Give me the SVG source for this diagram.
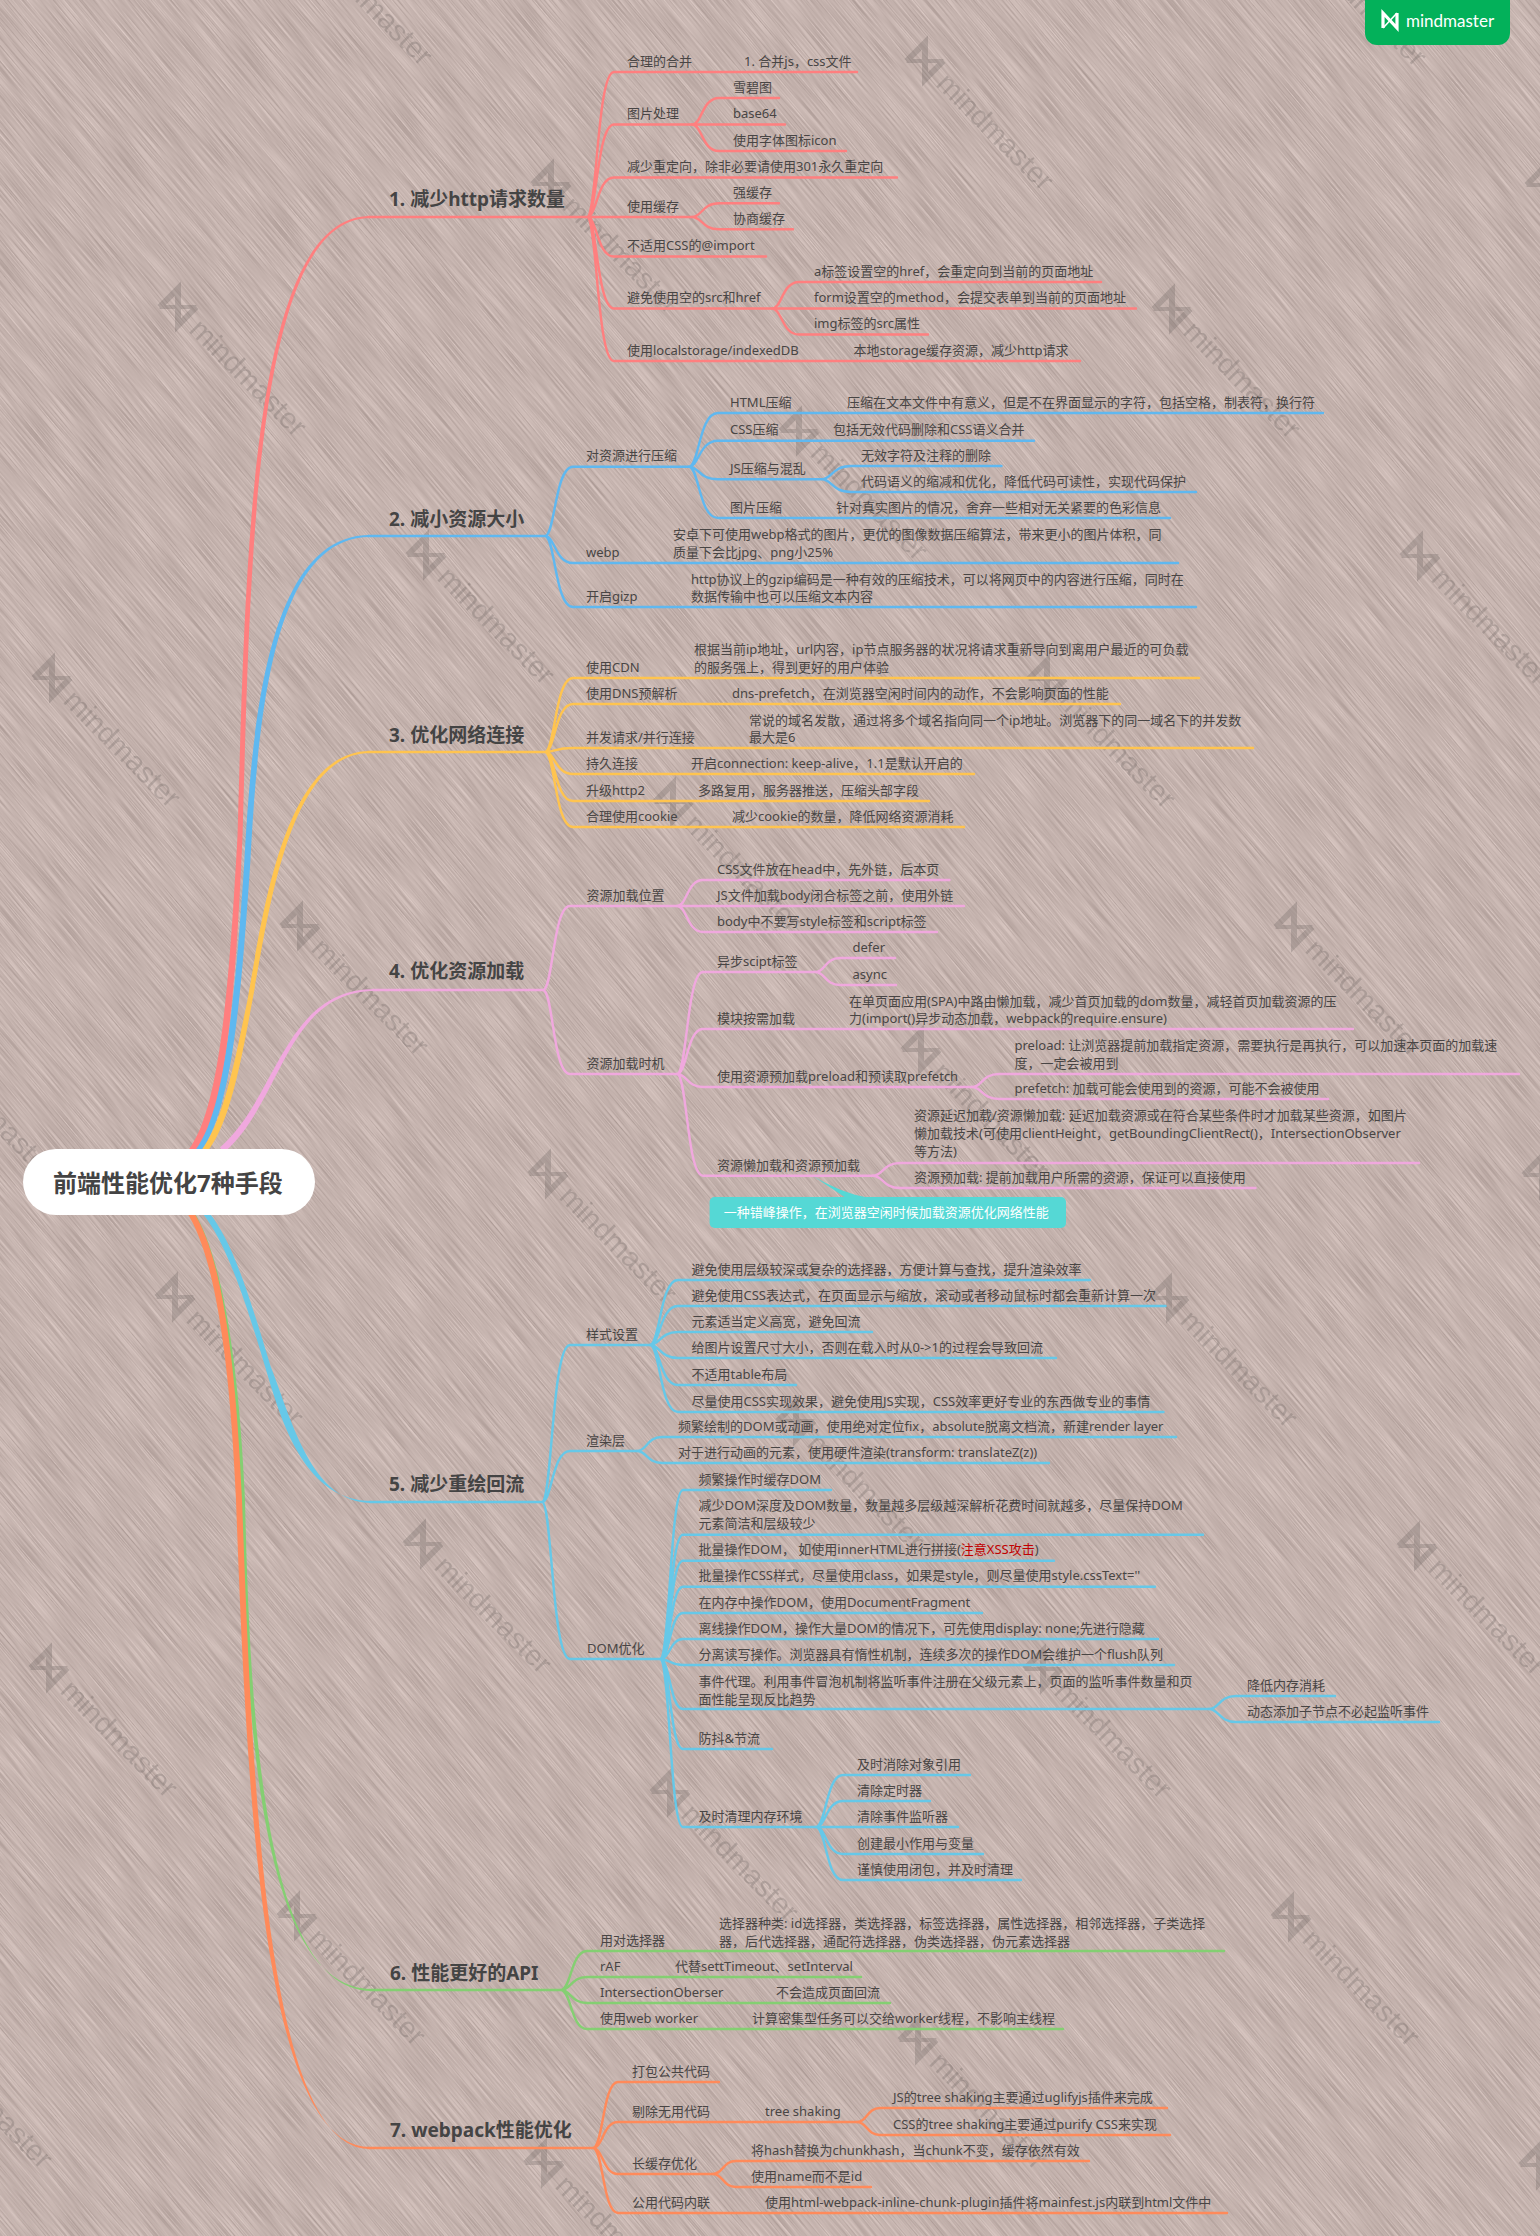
<svg xmlns="http://www.w3.org/2000/svg" width="1540" height="2236" viewBox="0 0 1540 2236">
<style>
text{font-family:"Noto Sans","Noto Sans CJK SC",sans-serif;font-size:13px;fill:#484544}
.h{font-size:19px;font-weight:700;fill:#444}
.root{font-size:24px;font-weight:700;fill:#444}
.l{fill:none;stroke-width:2.4;stroke-linecap:round}
.c1{stroke:#ff7f7f}.c2{stroke:#5fb8f0}.c3{stroke:#ffc44f}.c4{stroke:#f0a8de}.c5{stroke:#66c8e8}.c6{stroke:#84cf72}.c7{stroke:#ff8a5a}
.f1{fill:#ff7f7f}.f2{fill:#5fb8f0}.f3{fill:#ffc44f}.f4{fill:#f0a8de}.f5{fill:#66c8e8}.f6{fill:#84cf72}.f7{fill:#ff8a5a}
.wmt{font-family:"Liberation Sans",sans-serif;font-size:29px;fill:#6f6663;stroke:none}
.brand{font-family:"Lato",sans-serif;font-size:17px;fill:#fff}
</style>
<defs>
<filter id="rain" x="0" y="0" width="100%" height="100%" color-interpolation-filters="sRGB">
<feTurbulence type="fractalNoise" baseFrequency="0.02 1.6" numOctaves="1" seed="4"/>
<feColorMatrix type="matrix" values="0.3 0 0 0 0.62  0.3 0 0 0 0.55  0.3 0 0 0 0.53  0 0 0 0 1"/>
</filter>
<g id="wm" opacity="0.3">
<path d="M-13 13V-13L13 13V-13M-13 -13" fill="none" stroke="#6f6663" stroke-width="6"/>
<path d="M-13 13L13 -13" fill="none" stroke="#6f6663" stroke-width="4"/>
<text class="wmt" x="24" y="10">mindmaster</text>
</g>
</defs>
<rect width="1540" height="2236" fill="#c4b3ae"/>
<rect x="-590" y="-242" width="2720" height="2720" transform="rotate(50 770 1118)" filter="url(#rain)"/>
<g id="watermarks">
<use href="#wm" transform="translate(304 -64) rotate(45)"/><use href="#wm" transform="translate(551 184) rotate(45)"/><use href="#wm" transform="translate(799 431) rotate(45)"/><use href="#wm" transform="translate(1047 679) rotate(45)"/><use href="#wm" transform="translate(1294 927) rotate(45)"/><use href="#wm" transform="translate(1542 1175) rotate(45)"/>
<use href="#wm" transform="translate(178 307) rotate(45)"/><use href="#wm" transform="translate(426 555) rotate(45)"/><use href="#wm" transform="translate(673 802) rotate(45)"/><use href="#wm" transform="translate(921 1050) rotate(45)"/><use href="#wm" transform="translate(1169 1298) rotate(45)"/><use href="#wm" transform="translate(1417 1546) rotate(45)"/>
<use href="#wm" transform="translate(925 61) rotate(45)"/><use href="#wm" transform="translate(1172 309) rotate(45)"/><use href="#wm" transform="translate(1420 556) rotate(45)"/>
<use href="#wm" transform="translate(1298 -63) rotate(45)"/><use href="#wm" transform="translate(1545 185) rotate(45)"/>
<use href="#wm" transform="translate(52 678) rotate(45)"/><use href="#wm" transform="translate(300 926) rotate(45)"/><use href="#wm" transform="translate(548 1174) rotate(45)"/><use href="#wm" transform="translate(796 1421) rotate(45)"/><use href="#wm" transform="translate(1043 1669) rotate(45)"/><use href="#wm" transform="translate(1291 1917) rotate(45)"/><use href="#wm" transform="translate(1539 2165) rotate(45)"/>
<use href="#wm" transform="translate(-73 1049) rotate(45)"/><use href="#wm" transform="translate(175 1297) rotate(45)"/><use href="#wm" transform="translate(423 1544) rotate(45)"/><use href="#wm" transform="translate(670 1792) rotate(45)"/><use href="#wm" transform="translate(918 2040) rotate(45)"/>
<use href="#wm" transform="translate(49 1668) rotate(45)"/><use href="#wm" transform="translate(297 1916) rotate(45)"/><use href="#wm" transform="translate(544 2163) rotate(45)"/>
<use href="#wm" transform="translate(-76 2039) rotate(45)"/>
</g>
<g id="connectors">
<path class="f3" d="M201.5 1150C224.5 1120 237 1050 247.5 1000C262 920 283 751 370 751V753C287 753 268 920 252.5 1000C243 1050 231.5 1120 208.5 1150Z"/>
<path class="f2" d="M194.5 1150C224.5 1110 235 1000 244 867C252 720 268 535 370 535V537C272 537 258 720 250 867C241 1000 231.5 1110 201.5 1150Z"/>
<path class="f1" d="M188.5 1150C218.5 1110 228.5 1000 237.5 836C245.5 560 250 216 370 216V218C254 218 250.5 560 242.5 836C235.5 1000 225.5 1110 195.5 1150Z"/>
<path class="f4" d="M220 1147.5C278 1097 284 989 375 989V991C286 991 282 1103 224 1152.5Z"/>
<path class="f5" d="M201.5 1212C224.5 1240 243 1292 265.5 1368C282.5 1426 306 1501 372 1501V1503C312 1503 293 1424 270.5 1366C247 1288 231.5 1240 208.5 1212Z"/>
<path class="f6" d="M190 1212C214 1250 234 1340 241 1500C246 1720 260 1989 372 1989V1991C264 1991 250 1720 245 1500C238 1340 218 1250 194 1212Z"/>
<path class="f7" d="M186.5 1212C211.5 1250 229 1340 236 1500C247 1800 263 2147 370 2147V2149C267 2149 253 1800 242 1500C235 1340 218.5 1250 193.5 1212Z"/>
<g class="l c1">
<path d="M368 217H587M587 217C597 217 597 72 614 72H857M587 217C597 217 597 124.5 614 124.5H692M587 217C597 217 597 177.5 614 177.5H897M587 217H692M587 217C597 217 597 256.5 614 256.5H766M587 217C597 217 597 308.5 614 308.5H772M587 217C597 217 597 361 614 361H1080"/>
<path d="M692 124.5C702 124.5 702 98 719 98H779M692 124.5H785M692 124.5C702 124.5 702 151 719 151H846M692 217C702 217 702 203.3 719 203.3H779M692 217C702 217 702 229.3 719 229.3H793"/>
<path d="M772 308.5C782 308.5 782 282 799 282H1101M772 308.5H1136M772 308.5C782 308.5 782 334.5 799 334.5H928"/>
</g>
<g class="l c2">
<path d="M368 536H545M545 536C555 536 555 466.7 573 466.7H689M545 536C555 536 555 563 573 563H1178M545 536C555 536 555 607 573 607H1196"/>
<path d="M689 466.7C699 466.7 699 413 718 413H1323M689 466.7C699 466.7 699 440.7 718 440.7H1034M689 466.7C699 466.7 699 479.3 718 479.3H822M689 466.7C699 466.7 699 518 718 518H1170M822 479.3C832 479.3 832 466 851 466H1001.5M822 479.3C832 479.3 832 492 851 492H1196"/>
</g>
<g class="l c3">
<path d="M368 752H545M545 752C555 752 555 678 573 678H1199M545 752C555 752 555 704 573 704H1120M545 752C555 752 555 748 573 748H1253M545 752C555 752 555 774 573 774H974M545 752C555 752 555 801 573 801H929M545 752C555 752 555 827 573 827H964"/>
</g>
<g class="l c4">
<path d="M373 990H543M543 990C553 990 553 906 570 906H677M543 990C553 990 553 1074 570 1074H677"/>
<path d="M677 906C687 906 687 880 703 880H949.5M677 906H964M677 906C687 906 687 932 703 932H937"/>
<path d="M677 1074C687 1074 687 972 703 972H815.5M677 1074C687 1074 687 1029 703 1029H1353M677 1074C687 1074 687 1087 703 1087H972M677 1074C687 1074 687 1175.7 703 1175.7H873"/>
<path d="M815.5 972C825 972 825 958 840 958H895M815.5 972C825 972 825 985 840 985H896M972 1087C982 1087 982 1074 999 1074H1519M972 1087C982 1087 982 1099 999 1099H1328M873 1175.7C883 1175.7 883 1163 900 1163H1419M873 1175.7C883 1175.7 883 1188 900 1188H1255.5"/>
</g>
<g class="l c5">
<path d="M370 1502H542M542 1502C552 1502 552 1345 570 1345H650M542 1502C552 1502 552 1451 570 1451H637M542 1502C552 1502 552 1659 570 1659H660"/>
<path d="M650 1345C660 1345 660 1280 678 1280H1090M650 1345C660 1345 660 1306 678 1306H1165.5M650 1345C660 1345 660 1332 678 1332H872M650 1345C660 1345 660 1358 678 1358H1056M650 1345C660 1345 660 1385 678 1385H796M650 1345C660 1345 660 1412 678 1412H1163.5"/>
<path d="M637 1451C647 1451 647 1437 662 1437H1176M637 1451C647 1451 647 1463 662 1463H1049"/>
<path d="M660 1659C670 1659 670 1490 683 1490H831M660 1659C670 1659 670 1534.7 683 1534.7H1203M660 1659C670 1659 670 1560.7 683 1560.7H1054M660 1659C670 1659 670 1586.7 683 1586.7H1155M660 1659C670 1659 670 1613 683 1613H982M660 1659C670 1659 670 1639 683 1639H1158M660 1659C670 1659 670 1665 683 1665H1174M660 1659C670 1659 670 1709 683 1709H1209M660 1659C670 1659 670 1749 683 1749H772M660 1659C670 1659 670 1827 683 1827H816"/>
<path d="M1209 1709C1219 1709 1219 1696 1236 1696H1335M1209 1709C1219 1709 1219 1722 1236 1722H1439M816 1827C826 1827 826 1775 843 1775H970M816 1827C826 1827 826 1801 843 1801H930M816 1827H958M816 1827C826 1827 826 1854 843 1854H983M816 1827C826 1827 826 1880 843 1880H1021"/>
</g>
<g class="l c6">
<path d="M370 1990H561M561 1990C571 1990 571 1951 587 1951H1224M561 1990C571 1990 571 1977 587 1977H861M561 1990C571 1990 571 2003 587 2003H890M561 1990C571 1990 571 2029 587 2029H1063"/>
</g>
<g class="l c7">
<path d="M368 2148H593M593 2148C603 2148 603 2082 618 2082H719M593 2148C603 2148 603 2122 618 2122H857M593 2148C603 2148 603 2174 618 2174H713M593 2148C603 2148 603 2213 618 2213H1227"/>
<path d="M857 2122C867 2122 867 2108 880 2108H1167M857 2122C867 2122 867 2135 880 2135H1170M713 2174C723 2174 723 2161 736 2161H1089M713 2174C723 2174 723 2187 736 2187H871"/>
</g>
</g>
<g id="root"><rect x="23" y="1149" width="292" height="66" rx="33" fill="#fff"/><text class="root" x="53" y="1191.5">前端性能优化7种手段</text></g>
<g id="brand"><path d="M1365 0H1510V33A12 12 0 0 1 1498 45H1377A12 12 0 0 1 1365 33Z" fill="#03b15a"/><path d="M1383 28V13L1397 28V13" fill="none" stroke="#fff" stroke-width="3.2"/><path d="M1383 28L1397 13" fill="none" stroke="#fff" stroke-width="1.6"/><text class="brand" x="1406" y="26.5">mindmaster</text></g>
<g id="b1"><text class="h" x="389" y="206">1. 减少http请求数量</text></g>
<g id="b1-1"><text x="627" y="66">合理的合并</text><text x="744" y="66">1. 合并js，css文件</text></g>
<g id="b1-2"><text x="627" y="118">图片处理</text></g>
<g id="b1-2-1"><text x="733" y="91.5">雪碧图</text></g>
<g id="b1-2-2"><text x="733" y="118">base64</text></g>
<g id="b1-2-3"><text x="733" y="144.5">使用字体图标icon</text></g>
<g id="b1-3"><text x="627" y="171">减少重定向，除非必要请使用301永久重定向</text></g>
<g id="b1-4"><text x="627" y="210.5">使用缓存</text></g>
<g id="b1-4-1"><text x="733" y="197">强缓存</text></g>
<g id="b1-4-2"><text x="733" y="223">协商缓存</text></g>
<g id="b1-5"><text x="627" y="250">不适用CSS的@import</text></g>
<g id="b1-6"><text x="627" y="302">避免使用空的src和href</text></g>
<g id="b1-6-1"><text x="814" y="275.5">a标签设置空的href，会重定向到当前的页面地址</text></g>
<g id="b1-6-2"><text x="814" y="302">form设置空的method，会提交表单到当前的页面地址</text></g>
<g id="b1-6-3"><text x="814" y="328">img标签的src属性</text></g>
<g id="b1-7"><text x="627" y="354.5">使用localstorage/indexedDB</text><text x="853.5" y="354.5">本地storage缓存资源，减少http请求</text></g>
<g id="b2"><text class="h" x="389" y="526">2. 减小资源大小</text></g>
<g id="b2-1"><text x="586" y="460">对资源进行压缩</text></g>
<g id="b2-1-1"><text x="730" y="406.5">HTML压缩</text><text x="847" y="406.5">压缩在文本文件中有意义，但是不在界面显示的字符，包括空格，制表符，换行符</text></g>
<g id="b2-1-2"><text x="730" y="434">CSS压缩</text><text x="833" y="434">包括无效代码删除和CSS语义合并</text></g>
<g id="b2-1-3"><text x="730" y="473">JS压缩与混乱</text></g>
<g id="b2-1-3-1"><text x="861" y="459.5">无效字符及注释的删除</text></g>
<g id="b2-1-3-2"><text x="861" y="485.5">代码语义的缩减和优化，降低代码可读性，实现代码保护</text></g>
<g id="b2-1-4"><text x="730" y="511.5">图片压缩</text><text x="836" y="511.5">针对真实图片的情况，舍弃一些相对无关紧要的色彩信息</text></g>
<g id="b2-2"><text x="586" y="556.5">webp</text><text x="673" y="538.5">安卓下可使用webp格式的图片，更优的图像数据压缩算法，带来更小的图片体积，同</text><text x="673" y="556.5">质量下会比jpg、png小25%</text></g>
<g id="b2-3"><text x="586" y="601">开启gizp</text><text x="691" y="583.5">http协议上的gzip编码是一种有效的压缩技术，可以将网页中的内容进行压缩，同时在</text><text x="691" y="601">数据传输中也可以压缩文本内容</text></g>
<g id="b3"><text class="h" x="389" y="742">3. 优化网络连接</text></g>
<g id="b3-1"><text x="586" y="671.5">使用CDN</text><text x="694" y="653.5">根据当前ip地址，url内容，ip节点服务器的状况将请求重新导向到离用户最近的可负载</text><text x="694" y="671.5">的服务强上，得到更好的用户体验</text></g>
<g id="b3-2"><text x="586" y="697.5">使用DNS预解析</text><text x="732" y="697.5">dns-prefetch，在浏览器空闲时间内的动作，不会影响页面的性能</text></g>
<g id="b3-3"><text x="586" y="742">并发请求/并行连接</text><text x="749" y="724.5">常说的域名发散，通过将多个域名指向同一个ip地址。浏览器下的同一域名下的并发数</text><text x="749" y="742">最大是6</text></g>
<g id="b3-4"><text x="586" y="767.5">持久连接</text><text x="691" y="767.5">开启connection: keep-alive，1.1是默认开启的</text></g>
<g id="b3-5"><text x="586" y="794.5">升级http2</text><text x="698" y="794.5">多路复用，服务器推送，压缩头部字段</text></g>
<g id="b3-6"><text x="586" y="820.5">合理使用cookie</text><text x="732" y="820.5">减少cookie的数量，降低网络资源消耗</text></g>
<g id="b4"><text class="h" x="389" y="978">4. 优化资源加载</text></g>
<g id="b4-1"><text x="586.5" y="899.5">资源加载位置</text></g>
<g id="b4-1-1"><text x="717" y="873.5">CSS文件放在head中，先外链，后本页</text></g>
<g id="b4-1-2"><text x="717" y="899.5">JS文件加载body闭合标签之前，使用外链</text></g>
<g id="b4-1-3"><text x="717" y="925.5">body中不要写style标签和script标签</text></g>
<g id="b4-2"><text x="586.5" y="1067.5">资源加载时机</text></g>
<g id="b4-2-1"><text x="717" y="965.5">异步scipt标签</text></g>
<g id="b4-2-1-1"><text x="852.5" y="951.5">defer</text></g>
<g id="b4-2-1-2"><text x="852.5" y="978.5">async</text></g>
<g id="b4-2-2"><text x="717" y="1022.5">模块按需加载</text><text x="849" y="1005.5">在单页面应用(SPA)中路由懒加载，减少首页加载的dom数量，减轻首页加载资源的压</text><text x="849" y="1023">力(import()异步动态加载，webpack的require.ensure)</text></g>
<g id="b4-2-3"><text x="717" y="1080.5">使用资源预加载preload和预读取prefetch</text></g>
<g id="b4-2-3-1"><text x="1014.5" y="1049.5">preload: 让浏览器提前加载指定资源，需要执行是再执行，可以加速本页面的加载速</text><text x="1014.5" y="1067.5">度，一定会被用到</text></g>
<g id="b4-2-3-2"><text x="1014.5" y="1093">prefetch: 加载可能会使用到的资源，可能不会被使用</text></g>
<g id="b4-2-4"><text x="717" y="1169.5">资源懒加载和资源预加载</text></g>
<g id="b4-2-4-1"><text x="914" y="1119.5">资源延迟加载/资源懒加载: 延迟加载资源或在符合某些条件时才加载某些资源，如图片</text><text x="914" y="1137.5">懒加载技术(可使用clientHeight，getBoundingClientRect()，IntersectionObserver</text><text x="914" y="1155.5">等方法)</text></g>
<g id="b4-2-4-2"><text x="914" y="1182">资源预加载: 提前加载用户所需的资源，保证可以直接使用</text></g>
<g id="callout"><path d="M813 1176L846 1198H870C850 1195 830 1186 813 1176Z" fill="#55d8d5"/><rect x="709.6" y="1197" width="356.4" height="31" rx="5" fill="#55d8d5"/><text x="723.7" y="1216.5" style="fill:#fff">一种错峰操作，在浏览器空闲时候加载资源优化网络性能</text></g>
<g id="b5"><text class="h" x="389" y="1491">5. 减少重绘回流</text></g>
<g id="b5-1"><text x="586" y="1338.5">样式设置</text></g>
<g id="b5-1-1"><text x="691.5" y="1273.5">避免使用层级较深或复杂的选择器，方便计算与查找，提升渲染效率</text></g>
<g id="b5-1-2"><text x="691.5" y="1299.5">避免使用CSS表达式，在页面显示与缩放，滚动或者移动鼠标时都会重新计算一次</text></g>
<g id="b5-1-3"><text x="691.5" y="1325.5">元素适当定义高宽，避免回流</text></g>
<g id="b5-1-4"><text x="691.5" y="1351.5">给图片设置尺寸大小，否则在载入时从0->1的过程会导致回流</text></g>
<g id="b5-1-5"><text x="691.5" y="1378.5">不适用table布局</text></g>
<g id="b5-1-6"><text x="691.5" y="1405.5">尽量使用CSS实现效果，避免使用JS实现，CSS效率更好专业的东西做专业的事情</text></g>
<g id="b5-2"><text x="586" y="1444.5">渲染层</text></g>
<g id="b5-2-1"><text x="678" y="1430.5">频繁绘制的DOM或动画，使用绝对定位fix，absolute脱离文档流，新建render layer</text></g>
<g id="b5-2-2"><text x="678" y="1456.5">对于进行动画的元素，使用硬件渲染(transform: translateZ(z))</text></g>
<g id="b5-3"><text x="587" y="1652.5">DOM优化</text></g>
<g id="b5-3-1"><text x="698.5" y="1483.5">频繁操作时缓存DOM</text></g>
<g id="b5-3-2"><text x="698.5" y="1510">减少DOM深度及DOM数量，数量越多层级越深解析花费时间就越多，尽量保持DOM</text><text x="698.5" y="1528">元素简洁和层级较少</text></g>
<g id="b5-3-3"><text x="698.5" y="1554">批量操作DOM， 如使用innerHTML进行拼接(<tspan style="fill:#c00000">注意XSS攻击</tspan>)</text></g>
<g id="b5-3-4"><text x="698.5" y="1580">批量操作CSS样式，尽量使用class，如果是style，则尽量使用style.cssText=''</text></g>
<g id="b5-3-5"><text x="698.5" y="1606.5">在内存中操作DOM，使用DocumentFragment</text></g>
<g id="b5-3-6"><text x="698.5" y="1632.5">离线操作DOM，操作大量DOM的情况下，可先使用display: none;先进行隐藏</text></g>
<g id="b5-3-7"><text x="698.5" y="1658.5">分离读写操作。浏览器具有惰性机制，连续多次的操作DOM会维护一个flush队列</text></g>
<g id="b5-3-8"><text x="698.5" y="1685.5">事件代理。利用事件冒泡机制将监听事件注册在父级元素上，页面的监听事件数量和页</text><text x="698.5" y="1703.5">面性能呈现反比趋势</text></g>
<g id="b5-3-8-1"><text x="1247" y="1689.5">降低内存消耗</text></g>
<g id="b5-3-8-2"><text x="1247" y="1715.5">动态添加子节点不必起监听事件</text></g>
<g id="b5-3-9"><text x="698.5" y="1743">防抖&amp;节流</text></g>
<g id="b5-3-10"><text x="698.5" y="1821">及时清理内存环境</text></g>
<g id="b5-3-10-1"><text x="857" y="1769">及时消除对象引用</text></g>
<g id="b5-3-10-2"><text x="857" y="1795">清除定时器</text></g>
<g id="b5-3-10-3"><text x="857" y="1821">清除事件监听器</text></g>
<g id="b5-3-10-4"><text x="857" y="1848">创建最小作用与变量</text></g>
<g id="b5-3-10-5"><text x="857" y="1874">谨慎使用闭包，并及时清理</text></g>
<g id="b6"><text class="h" x="390" y="1980">6. 性能更好的API</text></g>
<g id="b6-1"><text x="600" y="1945">用对选择器</text><text x="719" y="1927.5">选择器种类: id选择器，类选择器，标签选择器，属性选择器，相邻选择器，子类选择</text><text x="719" y="1945.5">器，后代选择器，通配符选择器，伪类选择器，伪元素选择器</text></g>
<g id="b6-2"><text x="600" y="1971">rAF</text><text x="675" y="1971">代替settTimeout、setInterval</text></g>
<g id="b6-3"><text x="600" y="1997">IntersectionOberser</text><text x="776" y="1997">不会造成页面回流</text></g>
<g id="b6-4"><text x="600" y="2023">使用web worker</text><text x="752" y="2023">计算密集型任务可以交给worker线程，不影响主线程</text></g>
<g id="b7"><text class="h" x="390" y="2137">7. webpack性能优化</text></g>
<g id="b7-1"><text x="632" y="2076">打包公共代码</text></g>
<g id="b7-2"><text x="632" y="2115.5">剔除无用代码</text><text x="765" y="2115.5">tree shaking</text></g>
<g id="b7-2-1"><text x="893" y="2102">JS的tree shaking主要通过uglifyjs插件来完成</text></g>
<g id="b7-2-2"><text x="893" y="2129">CSS的tree shaking主要通过purify CSS来实现</text></g>
<g id="b7-3"><text x="632" y="2168">长缓存优化</text></g>
<g id="b7-3-1"><text x="751" y="2155">将hash替换为chunkhash，当chunk不变，缓存依然有效</text></g>
<g id="b7-3-2"><text x="751" y="2181">使用name而不是id</text></g>
<g id="b7-4"><text x="632" y="2207">公用代码内联</text><text x="765" y="2207">使用html-webpack-inline-chunk-plugin插件将mainfest.js内联到html文件中</text></g>
</svg>
